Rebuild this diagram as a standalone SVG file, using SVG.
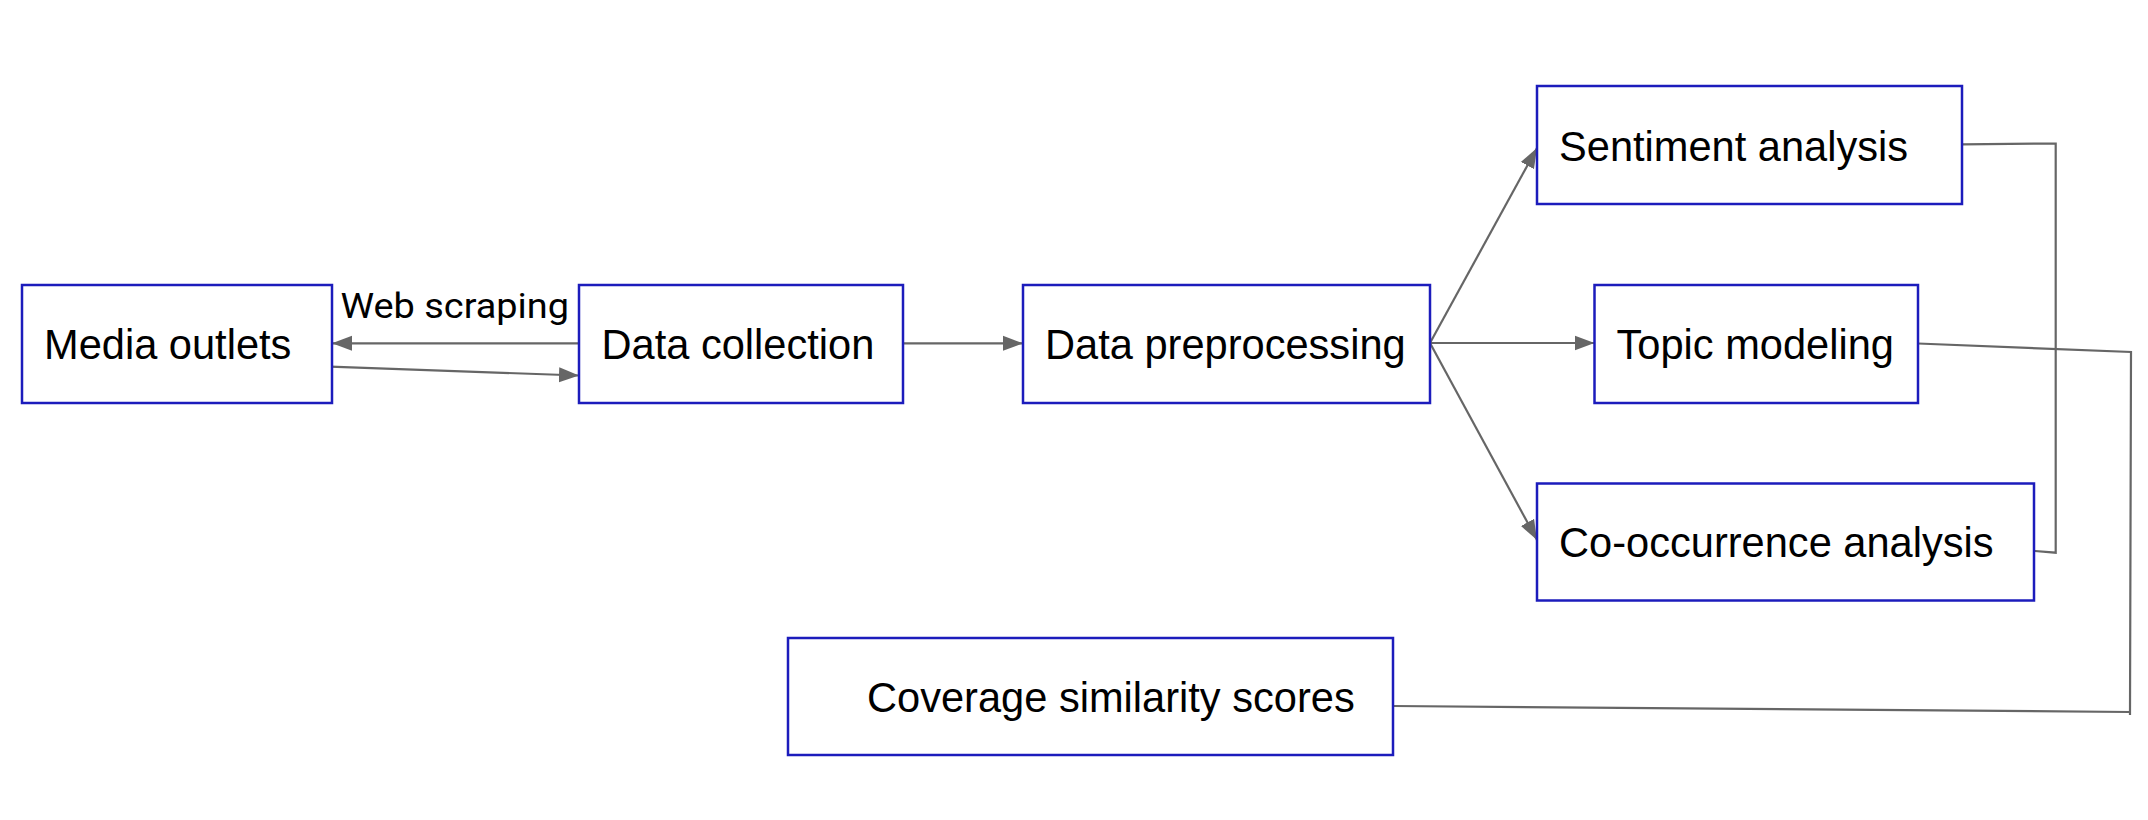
<svg xmlns="http://www.w3.org/2000/svg" width="2148" height="820" viewBox="0 0 2148 820">
<style>
.box{fill:#ffffff;stroke:#1c1cbc;stroke-width:2.5}
.lbl{font-family:"Liberation Sans",Arial,sans-serif;font-size:41.6px;fill:#000000}
.edge{fill:none;stroke:#666666;stroke-width:2.2}
.elbl{font-family:Roboto,"Liberation Sans",sans-serif;font-size:35px;fill:#000000}
</style>
<defs>
<marker id="arr" markerUnits="userSpaceOnUse" markerWidth="22" markerHeight="16" refX="20" refY="8" orient="auto">
<path d="M0,0.5 L20,8 L0,15.5 z" fill="#666666"/>
</marker>
</defs>
<rect width="2148" height="820" fill="#ffffff"/>
<g id="connectors">
<line class="edge" x1="579" y1="343.3" x2="332" y2="343.3" marker-end="url(#arr)"/>
<line class="edge" x1="330" y1="366.7" x2="579" y2="375.5" marker-end="url(#arr)"/>
<line class="edge" x1="903" y1="343.3" x2="1023" y2="343.3" marker-end="url(#arr)"/>
<line class="edge" x1="1430" y1="343" x2="1537" y2="148" marker-end="url(#arr)"/>
<line class="edge" x1="1430" y1="343" x2="1594.5" y2="343" marker-end="url(#arr)"/>
<line class="edge" x1="1430" y1="343" x2="1537" y2="540" marker-end="url(#arr)"/>
<polyline class="edge" points="1962,144.3 2055.7,143.5 2055.7,552.7 2022.7,550"/>
<polyline class="edge" points="1918,343.5 2131,352 2130,715"/>
<line class="edge" x1="1393" y1="706" x2="2130" y2="712"/>
</g>
<g id="media-outlets">
<rect class="box" x="22" y="285" width="310" height="118"/>
<text class="lbl" x="44" y="359">Media outlets</text>
</g>
<text class="elbl" x="340.5" y="318" textLength="228.5" lengthAdjust="spacingAndGlyphs">Web scraping</text>
<g id="data-collection">
<rect class="box" x="579" y="285" width="324" height="118"/>
<text class="lbl" x="601.5" y="359">Data collection</text>
</g>
<g id="data-preprocessing">
<rect class="box" x="1023" y="285" width="407" height="118"/>
<text class="lbl" x="1045" y="359">Data preprocessing</text>
</g>
<g id="sentiment-analysis">
<rect class="box" x="1537" y="86" width="425" height="118"/>
<text class="lbl" x="1559" y="160.5">Sentiment analysis</text>
</g>
<g id="topic-modeling">
<rect class="box" x="1594.5" y="285" width="323.5" height="118"/>
<text class="lbl" x="1616.5" y="359">Topic modeling</text>
</g>
<g id="co-occurrence-analysis">
<rect class="box" x="1537" y="483.5" width="497" height="117"/>
<text class="lbl" x="1559" y="557">Co-occurrence analysis</text>
</g>
<g id="coverage-similarity-scores">
<rect class="box" x="788" y="638" width="605" height="117"/>
<text class="lbl" x="867" y="711.5">Coverage similarity scores</text>
</g>
</svg>
